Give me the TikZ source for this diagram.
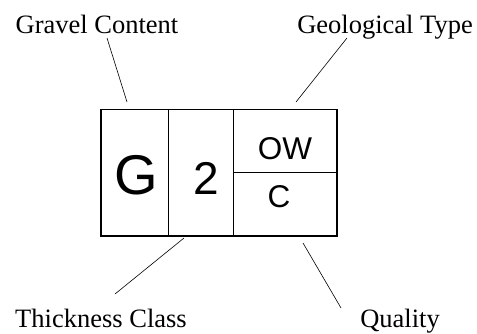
\documentclass[tikz,border=0pt]{standalone}
\usepackage{fontspec}
\setmainfont{Liberation Serif}
\newfontfamily\boxfont{Liberation Sans}
\tikzset{
  % a caption round the symbol
  lbl/.style   = {font=\fontsize{26.5}{30}\selectfont, inner sep=0pt, anchor=base},
  % a leader from a caption to the symbol
  lead/.style  = {line width=0.6pt},
  % the outer frame of the symbol
  frame/.style = {line width=1.7pt},
  % a dividing line inside the symbol
  cut/.style   = {line width=0.8pt},
  % the letters inside the symbol
  big/.style   = {font=\boxfont\fontsize{56}{60}\selectfont, inner sep=0pt},
  mid/.style   = {font=\boxfont\fontsize{46}{50}\selectfont, inner sep=0pt},
  sml/.style   = {font=\boxfont\fontsize{31.5}{34}\selectfont, inner sep=0pt},
}
\begin{document}
\begin{tikzpicture}[x=1pt, y=-1pt]
  \useasboundingbox (0,0) rectangle (477,333);
  % captions
  \node[lbl] (gravel)  at ( 97, 33) {Gravel Content};
  \node[lbl] (geotype) at (385, 33) {Geological Type};
  \node[lbl] (thick)   at (101,327) {Thickness Class};
  \node[lbl] (qual)    at (400,327) {Quality};
  % the symbol
  \draw[cut] (168,109.5) -- (168,236);
  \draw[cut] (233,109.5) -- (233,236);
  \draw[cut] (233,172.7) -- (337,172.7);
  \draw[frame] (100.7,109.5) rectangle (337,236);
  \node[big] (gval) at (136.7,175) {G};
  \node[mid] (tval) at (206.7,178) {2};
  \node[sml] (oval) at (285,148.7) {OW};
  \node[sml] (qval) at (279,197) {C};
  % leader ends
  \coordinate (gA) at (107, 38);  \coordinate (gB) at (127,102);
  \coordinate (yA) at (347, 38);  \coordinate (yB) at (296,102);
  \coordinate (tA) at (115,294);  \coordinate (tB) at (184,238);
  \coordinate (qA) at (341,308);  \coordinate (qB) at (303,243);
  \draw[lead] (gA) -- (gB);
  \draw[lead] (yA) -- (yB);
  \draw[lead] (tA) -- (tB);
  \draw[lead] (qA) -- (qB);
\end{tikzpicture}
\end{document}
